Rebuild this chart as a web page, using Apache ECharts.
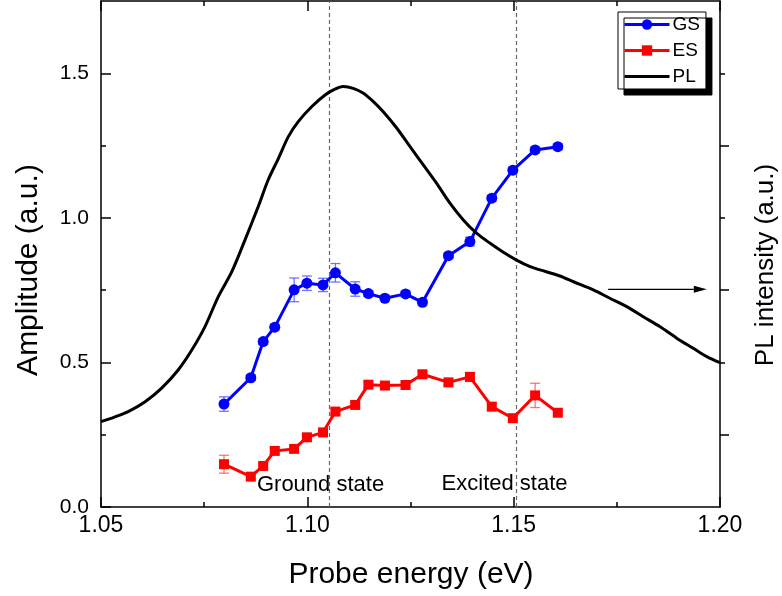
<!DOCTYPE html>
<html>
<head>
<meta charset="utf-8">
<script src="https://cdn.jsdelivr.net/npm/echarts@6/dist/echarts.min.js"></script>
<style>
  html, body { margin: 0; padding: 0; background: #fff; }
  #chart { width: 782px; height: 596px; }
</style>
</head>
<body>
<div id="chart"></div>
<script>
// Probe energies (eV) shared by the ground-state and excited-state measurements
const probeEnergy = [1.0798, 1.0863, 1.0893, 1.0921, 1.0968, 1.0999, 1.1038, 1.1068, 1.1116, 1.1148,
                     1.1188, 1.1238, 1.1279, 1.1342, 1.1394, 1.1447, 1.1498, 1.1552, 1.1607];
// Ground-state (GS) amplitude and its uncertainty
const gsAmplitude = [0.356, 0.447, 0.572, 0.622, 0.751, 0.774, 0.768, 0.810, 0.754, 0.738,
                     0.722, 0.737, 0.708, 0.869, 0.918, 1.068, 1.165, 1.235, 1.246];
const gsError     = [0.025, 0.010, 0.010, 0.010, 0.041, 0.025, 0.023, 0.032, 0.025, 0.010,
                     0.010, 0.010, 0.010, 0.010, 0.015, 0.010, 0.010, 0.010, 0.010];
// Excited-state (ES) amplitude and its uncertainty
const esAmplitude = [0.148, 0.105, 0.142, 0.194, 0.201, 0.241, 0.258, 0.330, 0.353, 0.423,
                     0.420, 0.422, 0.459, 0.431, 0.450, 0.347, 0.307, 0.386, 0.326];
const esError     = [0.031, 0.010, 0.010, 0.010, 0.010, 0.010, 0.010, 0.010, 0.010, 0.010,
                     0.010, 0.010, 0.010, 0.010, 0.015, 0.010, 0.010, 0.042, 0.010];
// Photoluminescence spectrum (arbitrary units)
const plEnergy = [1.0500, 1.0534, 1.0566, 1.0607, 1.0647, 1.0687, 1.0720, 1.0752, 1.0784, 1.0817,
                  1.0849, 1.0881, 1.0905, 1.0930, 1.0954, 1.0978, 1.1011, 1.1043, 1.1067, 1.1087,
                  1.1111, 1.1136, 1.1160, 1.1184, 1.1217, 1.1249, 1.1281, 1.1313, 1.1346, 1.1378,
                  1.1410, 1.1443, 1.1475, 1.1507, 1.1540, 1.1564, 1.1612, 1.1645, 1.1693, 1.1733,
                  1.1774, 1.1814, 1.1854, 1.1895, 1.1935, 1.1968, 1.2000];
const plIntensity = [0.295, 0.312, 0.330, 0.364, 0.411, 0.474, 0.543, 0.624, 0.727, 0.814,
                     0.924, 1.039, 1.131, 1.206, 1.281, 1.333, 1.385, 1.425, 1.445, 1.454,
                     1.448, 1.431, 1.402, 1.367, 1.310, 1.246, 1.183, 1.120, 1.050, 0.993,
                     0.947, 0.912, 0.881, 0.854, 0.831, 0.820, 0.799, 0.779, 0.751, 0.722,
                     0.693, 0.658, 0.624, 0.584, 0.549, 0.520, 0.499];
// Ground- and excited-state transition energies (eV)
const stateEnergy = [1.1052, 1.1506];
const stateLabels = [
  { energy: 1.1032, amplitude: 0.076, text: 'Ground state' },
  { energy: 1.1478, amplitude: 0.080, text: 'Excited state' }
];
// Arrow pointing the PL curve to its axis: [startE, PL, endE, PL]
const plArrow = [1.1729, 0.753, 1.1968, 0.753];
// Axis tick values
const xTicks = [1.05, 1.10, 1.15, 1.20];
const yTicks = [0.0, 0.5, 1.0, 1.5];

const FONT = "'Liberation Sans', Arial, Helvetica, sans-serif";
const meV = e => Math.round(e * 10000) / 10; // axis runs in meV to keep tick steps exact

function errorBars(values, errors, color) {
  return {
    type: 'custom',
    xAxisIndex: 0, yAxisIndex: 0,
    silent: true, z: 3,
    data: probeEnergy.map((e, i) => [meV(e), values[i] - errors[i], values[i] + errors[i]]),
    encode: { x: 0, y: [1, 2] },
    renderItem(params, api) {
      const x = api.value(0);
      const lo = api.coord([x, api.value(1)]);
      const hi = api.coord([x, api.value(2)]);
      const w = 5;
      const style = { stroke: color, lineWidth: 1.3, fill: null };
      return {
        type: 'group',
        children: [
          { type: 'line', shape: { x1: lo[0], y1: lo[1], x2: hi[0], y2: hi[1] }, style },
          { type: 'line', shape: { x1: lo[0] - w, y1: lo[1], x2: lo[0] + w, y2: lo[1] }, style },
          { type: 'line', shape: { x1: hi[0] - w, y1: hi[1], x2: hi[0] + w, y2: hi[1] }, style }
        ]
      };
    }
  };
}

const black = { color: '#000', width: 1.5 };
const xAxisBase = {
  type: 'value', min: meV(xTicks[0]), max: meV(xTicks[xTicks.length - 1]), interval: 50,
  axisLine: { show: true, onZero: false, lineStyle: black },
  axisTick: { show: true, inside: true, length: 10, lineStyle: black },
  minorTick: { show: true, splitNumber: 2, length: 5, lineStyle: black },
  splitLine: { show: false }, minorSplitLine: { show: false }
};
const yAxisBase = {
  type: 'value', min: 0, max: 1.75, interval: 0.25,
  axisLine: { show: true, onZero: false, lineStyle: black },
  splitLine: { show: false },
  axisLabel: { show: false }
};

const chart = echarts.init(document.getElementById('chart'), null, { renderer: 'canvas' });
chart.setOption({
  animation: false,
  backgroundColor: '#fff',
  grid: { left: 101, right: 62, top: 1, bottom: 89, containLabel: false },
  xAxis: [
    Object.assign({}, xAxisBase, {
      position: 'bottom',
      axisLabel: {
        show: true, color: '#000', fontSize: 23, fontFamily: FONT, margin: 7,
        formatter: v => (v / 1000).toFixed(2)
      }
    }),
    Object.assign({}, xAxisBase, { position: 'top', axisLabel: { show: false } })
  ],
  yAxis: [
    Object.assign({}, yAxisBase, {
      position: 'left',
      axisTick: { show: true, inside: true, length: 10, lineStyle: black, customValues: yTicks },
      axisLabel: {
        show: true, color: '#000', fontSize: 21, fontFamily: FONT, margin: 12,
        customValues: yTicks,
        formatter: v => (Math.abs(v * 2 - Math.round(v * 2)) < 1e-6 && v < 1.7) ? v.toFixed(1) : ''
      }
    }),
    Object.assign({}, yAxisBase, {
      position: 'right',
      axisTick: { show: true, inside: false, length: 9, lineStyle: black, customValues: [0.25, 0.75, 1.25] }
    }),
    Object.assign({}, yAxisBase, {
      position: 'left', axisLine: { show: false },
      axisTick: { show: true, inside: true, length: 5, lineStyle: black, customValues: [0.25, 0.75, 1.25] }
    }),
    Object.assign({}, yAxisBase, {
      position: 'right', axisLine: { show: false },
      axisTick: { show: true, inside: false, length: 5, lineStyle: black, customValues: [0.5, 1.0, 1.5] }
    })
  ],
  legend: {
    data: ['GS', 'ES', { name: 'PL', itemStyle: { opacity: 0 } }],
    orient: 'vertical', left: 618, top: 12,
    itemWidth: 45, itemHeight: 13, itemGap: 7,
    padding: [3, 6, 3, 5],
    backgroundColor: '#fff', borderColor: '#000', borderWidth: 1,
    shadowColor: '#000', shadowBlur: 0, shadowOffsetX: 6, shadowOffsetY: 6,
    selectedMode: false,
    lineStyle: { width: 3 },
    textStyle: { fontSize: 19, color: '#000', fontFamily: FONT, lineHeight: 18, padding: [0, 0, 0, -2] }
  },
  graphic: [
    { type: 'text', x: 29, y: 270, rotation: Math.PI / 2, silent: true,
      style: { text: 'Amplitude (a.u.)', fontSize: 30, fontFamily: FONT, fill: '#000', align: 'center', verticalAlign: 'middle' } },
    { type: 'text', x: 411, y: 575, silent: true,
      style: { text: 'Probe energy (eV)', fontSize: 30, fontFamily: FONT, fill: '#000', align: 'center', verticalAlign: 'middle' } },
    { type: 'text', x: 766, y: 265, rotation: Math.PI / 2, silent: true,
      style: { text: 'PL intensity (a.u.)', fontSize: 26, fontFamily: FONT, fill: '#000', align: 'center', verticalAlign: 'middle' } }
  ],
  series: [
    errorBars(gsAmplitude, gsError, 'rgba(70, 70, 255, 0.75)'),
    errorBars(esAmplitude, esError, 'rgba(255, 70, 70, 0.75)'),
    {
      name: 'GS', type: 'line', xAxisIndex: 0, yAxisIndex: 0, z: 4,
      data: probeEnergy.map((e, i) => [meV(e), gsAmplitude[i]]),
      symbol: 'circle', symbolSize: 11, showSymbol: true,
      itemStyle: { color: '#0000ff' },
      lineStyle: { color: '#0000ff', width: 3 },
      markLine: {
        silent: true, symbol: 'none', label: { show: false }, z: 1,
        lineStyle: { color: '#666', width: 1.2, type: [4, 3] },
        data: stateEnergy.map(e => ({ xAxis: meV(e) }))
      }
    },
    {
      name: 'ES', type: 'line', xAxisIndex: 0, yAxisIndex: 0, z: 4,
      data: probeEnergy.map((e, i) => [meV(e), esAmplitude[i]]),
      symbol: 'rect', symbolSize: 10, showSymbol: true,
      itemStyle: { color: '#ff0000' },
      lineStyle: { color: '#ff0000', width: 3 }
    },
    {
      name: 'PL', type: 'line', xAxisIndex: 0, yAxisIndex: 1, z: 5,
      data: plEnergy.map((e, i) => [meV(e), plIntensity[i]]),
      showSymbol: false, symbol: 'none', smooth: 0.3,
      itemStyle: { color: '#000' },
      lineStyle: { color: '#000', width: 3 }
    },
    {
      type: 'custom', xAxisIndex: 0, yAxisIndex: 1, silent: true, z: 6,
      data: [[meV(plArrow[0]), plArrow[1], meV(plArrow[2]), plArrow[3]]],
      renderItem(params, api) {
        const a = api.coord([api.value(0), api.value(1)]);
        const b = api.coord([api.value(2), api.value(3)]);
        const head = 13, half = 3.5;
        return {
          type: 'group',
          children: [
            { type: 'line', shape: { x1: a[0], y1: a[1], x2: b[0] - head, y2: b[1] },
              style: { stroke: '#000', lineWidth: 1.2 } },
            { type: 'polygon', shape: { points: [[b[0], b[1]], [b[0] - head, b[1] - half], [b[0] - head, b[1] + half]] },
              style: { fill: '#000' } }
          ]
        };
      }
    },
    {
      type: 'scatter', xAxisIndex: 0, yAxisIndex: 0, silent: true, z: 7,
      symbolSize: 0,
      itemStyle: { opacity: 1 },
      data: stateLabels.map(s => [meV(s.energy), s.amplitude, s.text]),
      label: {
        show: true, position: 'inside', formatter: p => p.data[2], opacity: 1,
        fontSize: 22, color: '#000', fontFamily: FONT, textBorderWidth: 0
      }
    }
  ]
});
</script>
</body>
</html>
